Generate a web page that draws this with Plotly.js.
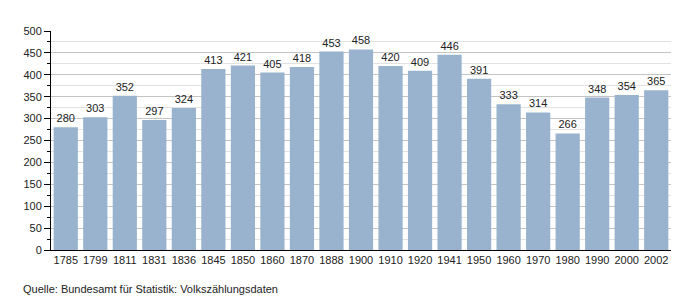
<!DOCTYPE html>
<html>
<head>
<meta charset="utf-8">
<script src="https://cdn.plot.ly/plotly-3.0.1.min.js"></script>
<style>html,body{margin:0;padding:0;background:#fff;}#chart{width:700px;height:300px;}</style>
</head>
<body>
<div id="chart"></div>
<script>
const years = ["1785","1799","1811","1831","1836","1845","1850","1860","1870","1888","1900","1910","1920","1941","1950","1960","1970","1980","1990","2000","2002"];
const population = [280,303,352,297,324,413,421,405,418,453,458,420,409,446,391,333,314,266,348,354,365];
const yTicks = [0,50,100,150,200,250,300,350,400,450,500];
const sourceText = "Quelle: Bundesamt für Statistik: Volkszählungsdaten";

const font = "Liberation Sans, Arial, sans-serif";
Plotly.newPlot("chart", [{
  type: "bar",
  x: years,
  y: population,
  text: population.map(String),
  textposition: "outside",
  cliponaxis: false,
  textfont: {family: font, size: 11, color: "#222"},
  marker: {color: "rgb(153,179,206)"},
  hoverinfo: "x+y"
}], {
  width: 700, height: 300,
  margin: {l: 51, r: 29, t: 31, b: 50},
  paper_bgcolor: "#fff", plot_bgcolor: "#fff",
  bargap: 0.18,
  showlegend: false,
  font: {family: font, size: 11, color: "#222"},
  xaxis: {
    type: "category",
    showline: true, linecolor: "#000", linewidth: 1,
    ticks: "", showgrid: false,
    tickfont: {family: font, size: 11, color: "#222"}
  },
  yaxis: {
    range: [0, 500],
    tickvals: yTicks,
    ticktext: yTicks.map(String),
    showline: true, linecolor: "#000", linewidth: 1,
    ticks: "outside", ticklen: 6, tickcolor: "#000",
    showgrid: true, gridcolor: "#c4c4c4", gridwidth: 1,
    zeroline: false,
    tickfont: {family: font, size: 11, color: "#222"},
    minor: {dtick: 25, tick0: 0, showgrid: true, gridcolor: "#e2e2e2", ticks: "outside", ticklen: 3, tickcolor: "#000"}
  },
  annotations: [{
    text: sourceText, xref: "paper", yref: "paper",
    x: -0.048, y: -0.14, xanchor: "left", yanchor: "top",
    showarrow: false, font: {family: font, size: 11, color: "#222"}
  }]
}, {staticPlot: true});
</script>
</body>
</html>
